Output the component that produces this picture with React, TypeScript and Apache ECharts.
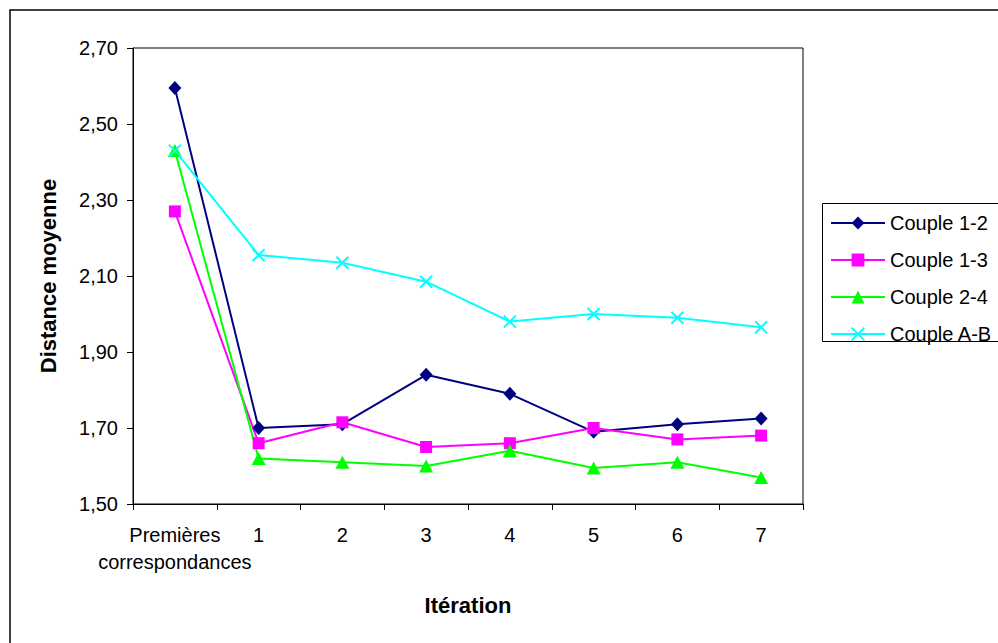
import React, { useEffect, useRef } from "react";
import * as echarts from "echarts";

const categories = ["Premières\ncorrespondances", "1", "2", "3", "4", "5", "6", "7"];
const couple12 = [2.595, 1.7, 1.71, 1.84, 1.79, 1.69, 1.71, 1.725];
const couple13 = [2.27, 1.66, 1.715, 1.65, 1.66, 1.7, 1.67, 1.68];
const couple24 = [2.43, 1.62, 1.61, 1.6, 1.64, 1.595, 1.61, 1.57];
const coupleAB = [2.43, 2.155, 2.135, 2.085, 1.98, 2.0, 1.99, 1.965];
const yTicks = [1.5, 1.7, 1.9, 2.1, 2.3, 2.5, 2.7];
const seriesNames = ["Couple 1-2", "Couple 1-3", "Couple 2-4", "Couple A-B"];

const FONT = "'Liberation Sans', Arial, sans-serif";

export default function App() {
  const ref = useRef<HTMLDivElement>(null);
  useEffect(() => {
    if (!ref.current) return;
    const chart = echarts.init(ref.current, null, { renderer: "svg" });
    const mk = (name: string, data: number[], color: string, symbol: string, size: any, cross = false) => ({
      name,
      type: "line",
      data,
      symbol,
      symbolSize: size,
      showSymbol: true,
      lineStyle: { color, width: 2 },
      itemStyle: cross
        ? { color, borderColor: color, borderWidth: 2 }
        : { color, borderWidth: 0 },
      emphasis: { disabled: true },
      z: 3,
    });
    chart.setOption({
      animation: false,
      backgroundColor: "#ffffff",
      textStyle: { fontFamily: FONT, color: "#000" },
      grid: {
        left: 133,
        top: 48,
        width: 670,
        height: 456,
        show: true,
        borderColor: "#000",
        borderWidth: 1,
        backgroundColor: "transparent",
        outerBoundsMode: "none",
        containLabel: false,
      },
      graphic: [
        {
          type: "rect",
          shape: { x: 10, y: 10, width: 1100, height: 800 },
          style: { fill: "none", stroke: "#000", lineWidth: 1.5 },
          silent: true,
          z: -1,
        },
        {
          type: "rect",
          shape: { x: 822.5, y: 203.5, width: 220, height: 138 },
          style: { fill: "none", stroke: "#000", lineWidth: 1 },
          silent: true,
          z: -1,
        },
      ],
      legend: {
        orient: "vertical",
        left: 822,
        top: 203,
        data: seriesNames,
        itemWidth: 54,
        itemHeight: 16,
        itemGap: 17,
        padding: [10, 20, 6, 8],
        textStyle: { fontFamily: FONT, fontSize: 20, color: "#000" },
        selectedMode: false,
      },
      xAxis: {
        type: "category",
        data: categories,
        boundaryGap: true,
        name: "Itération",
        nameLocation: "middle",
        nameGap: 101,
        nameTextStyle: { fontFamily: FONT, fontSize: 22, fontWeight: "bold", color: "#000", verticalAlign: "middle" },
        axisLine: { lineStyle: { color: "#000", width: 1 } },
        axisTick: { show: true, inside: false, length: 6, interval: 0, lineStyle: { color: "#000" } },
        axisLabel: { interval: 0, margin: 17, fontSize: 20, color: "#000", fontFamily: FONT, lineHeight: 27 },
        splitLine: { show: false },
      },
      yAxis: {
        type: "value",
        min: 1.5,
        max: 2.7,
        name: "Distance moyenne",
        nameLocation: "middle",
        nameGap: 85,
        nameRotate: 90,
        nameTextStyle: { fontFamily: FONT, fontSize: 22, fontWeight: "bold", color: "#000", verticalAlign: "middle" },
        axisLine: { show: true, lineStyle: { color: "#000", width: 1 } },
        axisTick: { show: true, inside: false, length: 6, customValues: yTicks, lineStyle: { color: "#000" } },
        axisLabel: {
          customValues: yTicks,
          margin: 15,
          fontSize: 20,
          color: "#000",
          fontFamily: FONT,
          formatter: (v: number) => v.toFixed(2).replace(".", ","),
        },
        splitLine: { show: false },
      },
      series: [
        mk("Couple 1-2", couple12, "#000080", "diamond", [13, 14]),
        mk("Couple 1-3", couple13, "#FF00FF", "rect", 12),
        mk("Couple 2-4", couple24, "#00FF00", "triangle", [14, 13]),
        mk("Couple A-B", coupleAB, "#00FFFF", "path://M0,0L10,10M10,0L0,10", 12, true),
      ],
    });
    return () => chart.dispose();
  }, []);
  return (
    <div
      ref={ref}
      style={{ position: "fixed", left: 0, top: 0, width: 998, height: 643, background: "#fff" }}
    />
  );
}
